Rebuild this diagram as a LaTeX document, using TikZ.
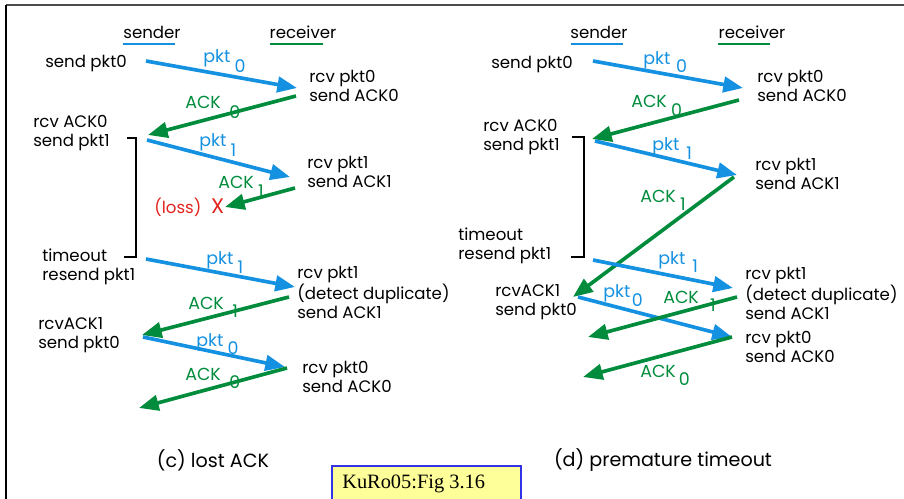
\documentclass[tikz,border=0pt]{standalone}
\usepackage{fontspec}
\setmainfont{Poppins}
\newfontfamily\notefont{Liberation Serif}
\usetikzlibrary{arrows.meta}
\definecolor{pktblue}{RGB}{20,145,225}
\definecolor{ackgreen}{RGB}{0,140,60}
\definecolor{lossred}{RGB}{225,35,30}
\definecolor{noteyellow}{RGB}{255,255,153}
\definecolor{noteblue}{RGB}{50,50,230}
\begin{document}
\begin{tikzpicture}[x=0.025cm,y=-0.025cm,
  txt/.style={anchor=west,align=left,inner sep=0pt,font=\fontsize{11.8}{13.3}\selectfont},
  lbl/.style={anchor=base west,inner sep=0pt,font=\fontsize{12.4}{14}\selectfont},
  head/.style={inner sep=0pt,font=\fontsize{11.8}{13}\selectfont},
  caption/.style={inner sep=0pt,font=\fontsize{13.6}{15}\selectfont},
  pktarrow/.style={pktblue,line width=2.6pt,-{Triangle[length=14pt,width=11pt]}},
  ackarrow/.style={ackgreen,line width=2.6pt,-{Triangle[length=14pt,width=11pt]}},
  bracketline/.style={black,line width=1.8pt},
  under/.style={line width=2pt}]
\useasboundingbox (0,0) rectangle (904,499);
\draw[line width=1.6pt,black!70] (6,5) -- (904,5);
\draw[line width=1.6pt,black] (6,5) -- (6,499);
\node[head] (csender) at (152,32) {sender};
\node[head] (creceiver) at (303,32) {receiver};
\draw[under,pktblue] (123,44) -- (175,44);
\draw[under,ackgreen] (270,44) -- (323,44);
\node[txt] (csend0) at (45,64) {send pkt0};
\node[txt] (crcv0) at (309,86) {rcv pkt0\\send ACK0};
\node[txt] (crack0) at (33,133) {rcv ACK0\\send pkt1};
\node[txt] (crcv1) at (307,172) {rcv pkt1\\send ACK1};
\node[txt,lossred] (closs) at (154,207) {(loss)\hspace{7pt}{\fontsize{15}{15}\selectfont X}};
\node[txt] (ctimeout) at (42,267) {timeout\\resend pkt1};
\node[txt] (cdup) at (297,292) {rcv pkt1\\(detect duplicate)\\send ACK1};
\node[txt] (crack1) at (38,335) {rcvACK1\\send pkt0};
\node[txt] (crcv2) at (302,377) {rcv pkt0\\send ACK0};
\node[caption] (ccaption) at (213,460) {(c) lost ACK};
\coordinate (cs1) at (146,61); \coordinate (cr1) at (297,88);
\coordinate (cr2) at (296,96); \coordinate (cs2) at (148,135);
\coordinate (cs3) at (147,140); \coordinate (cr3) at (290,177);
\coordinate (cr4) at (295,188); \coordinate (cx) at (225,207);
\coordinate (cs5) at (146,259); \coordinate (cr5) at (295,287);
\coordinate (cr6) at (289,297); \coordinate (cs6) at (142,335);
\coordinate (cs7) at (143,337); \coordinate (cr7) at (285,367);
\coordinate (cr8) at (287,368); \coordinate (cs8) at (139,408);
\draw[pktarrow] (cs1) -- (cr1);
\draw[ackarrow] (cr2) -- (cs2);
\draw[pktarrow] (cs3) -- (cr3);
\draw[ackarrow] (cr4) -- (cx);
\draw[pktarrow] (cs5) -- (cr5);
\draw[ackarrow] (cr6) -- (cs6);
\draw[pktarrow] (cs7) -- (cr7);
\draw[ackarrow] (cr8) -- (cs8);
\node[lbl,pktblue] (cl1) at (203,63) {pkt\hspace{3pt}\raisebox{-7pt}{0}};
\node[lbl,ackgreen] (cl2) at (185,109) {ACK\hspace{6pt}\raisebox{-7pt}{0}};
\node[lbl,pktblue] (cl3) at (199,147) {pkt\hspace{3pt}\raisebox{-7pt}{1}};
\node[lbl,ackgreen] (cl4) at (218,189) {ACK\hspace{3pt}\raisebox{-6pt}{1}};
\node[lbl,pktblue] (cl5) at (206,265) {pkt\hspace{3pt}\raisebox{-6pt}{1}};
\node[lbl,ackgreen] (cl6) at (188,309) {ACK\hspace{6pt}\raisebox{-6pt}{1}};
\node[lbl,pktblue] (cl7) at (196,346) {pkt\hspace{3pt}\raisebox{-6pt}{0}};
\node[lbl,ackgreen] (cl8) at (185,380) {ACK\hspace{6pt}\raisebox{-6pt}{0}};
\draw[bracketline] (127,138) -- (136,138) -- (136,257) -- (124,257);
\node[head] (dsender) at (599,32) {sender};
\node[head] (dreceiver) at (752,32) {receiver};
\draw[under,pktblue] (571,44) -- (623,44);
\draw[under,ackgreen] (718,44) -- (770,44);
\node[txt] (dsend0) at (491,65) {send pkt0};
\node[txt] (drcv0) at (757,86) {rcv pkt0\\send ACK0};
\node[txt] (drack0) at (483,137) {rcv ACK0\\send pkt1};
\node[txt] (drcv1) at (755,174) {rcv pkt1\\send ACK1};
\node[txt] (dtimeout) at (458,246) {timeout\\resend pkt1};
\node[txt] (ddup) at (745,293) {rcv pkt1\\(detect duplicate)\\send ACK1};
\node[txt] (drack1) at (495,302) {rcvACK1\\send pkt0};
\node[txt] (drcv2) at (745,347) {rcv pkt0\\send ACK0};
\node[caption] (dcaption) at (663,460) {(d) premature timeout};
\coordinate (ds1) at (593,61); \coordinate (dr1) at (743,88);
\coordinate (dr2) at (739,100); \coordinate (ds2) at (592,139);
\coordinate (ds3) at (595,141); \coordinate (dr3) at (737,175);
\coordinate (dr4) at (734,177); \coordinate (ds4) at (573,297);
\coordinate (ds5) at (593,260); \coordinate (dr5) at (733,288);
\coordinate (ds6) at (578,297); \coordinate (dr6) at (732,337);
\coordinate (dr7) at (737,297); \coordinate (ds7) at (588,337);
\coordinate (dr8) at (732,337); \coordinate (ds8) at (583,377);
\draw[pktarrow] (ds1) -- (dr1);
\draw[ackarrow] (dr2) -- (ds2);
\draw[pktarrow] (ds3) -- (dr3);
\draw[ackarrow] (dr4) -- (ds4);
\draw[pktarrow] (ds5) -- (dr5);
\draw[pktarrow] (ds6) -- (dr6);
\draw[ackarrow] (dr7) -- (ds7);
\draw[ackarrow] (dr8) -- (ds8);
\node[lbl,pktblue] (dl1) at (643,65) {pkt\hspace{4pt}\raisebox{-5pt}{0}};
\node[lbl,ackgreen] (dl2) at (631,108) {ACK\hspace{3pt}\raisebox{-6pt}{0}};
\node[lbl,pktblue] (dl3) at (652,151) {pkt\hspace{5pt}\raisebox{-6pt}{1}};
\node[lbl,ackgreen] (dl4) at (640,202) {ACK\hspace{3pt}\raisebox{-6pt}{1}};
\node[lbl,pktblue] (dl5) at (658,265) {pkt\hspace{5pt}\raisebox{-5pt}{1}};
\node[lbl,pktblue] (dl6) at (603,297) {pkt\hspace{1pt}\raisebox{-7pt}{0}};
\node[lbl,ackgreen] (dl7) at (663,303) {ACK\hspace{8pt}\raisebox{-6pt}{1}};
\node[lbl,ackgreen] (dl8) at (640,377) {ACK\hspace{2pt}\raisebox{-6pt}{0}};
\draw[bracketline] (572,137) -- (584,137) -- (584,257) -- (571,257);
\draw[noteblue,fill=noteyellow,line width=0.8pt] (332,502) -- (332,466) -- (521,466) -- (521,502);
\node[anchor=base west,inner sep=0pt,font=\notefont\fontsize{14.5}{16}\selectfont] (note) at (342,488) {KuRo05:Fig 3.16};
\end{tikzpicture}
\end{document}
